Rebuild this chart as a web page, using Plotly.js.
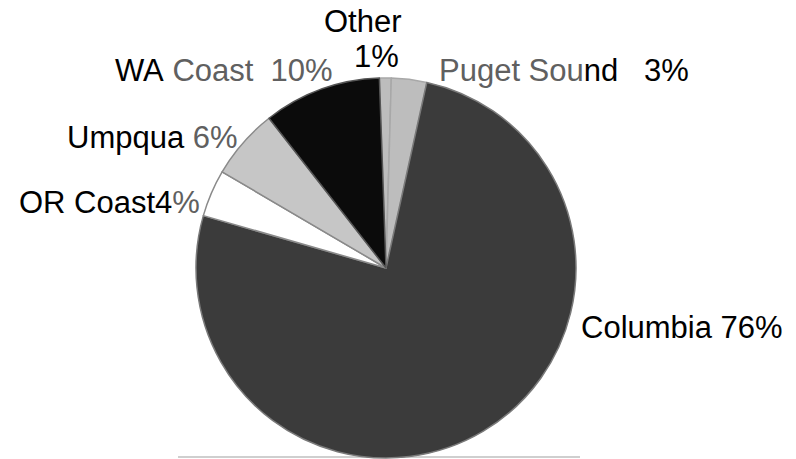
<!DOCTYPE html>
<html>
<head>
<meta charset="utf-8">
<script src="https://cdn.plot.ly/plotly-3.0.1.min.js"></script>
<style>html,body{margin:0;padding:0;background:#fff;}#chart{width:796px;height:459px;}</style>
</head>
<body>
<div id="chart"></div>
<script>
// ---- data ----
var labels = ["Other", "Puget Sound", "Columbia", "OR Coast", "Umpqua", "WA Coast"];
var values = [1, 3, 76, 4, 6, 10];
var sliceColors = ["#bdbdbd", "#bdbdbd", "#3b3b3b", "#ffffff", "#c6c6c6", "#0b0b0b"];

// ---- label layout (positions in px, separator, and how many leading/trailing chars are in the washed-out area) ----
var W = 796, H = 459;
var labelLayout = {
  "Other":       {x: 322, y: 21.5, sep: "\n",            grayFrom: null},
  "Puget Sound": {x: 437, y: 71,   sep: "\u00A0\u00A0\u00A0", grayTo: 9},
  "Columbia":    {x: 579, y: 327.5, sep: " ",             grayFrom: null},
  "OR Coast":    {x: 17,  y: 202.5, sep: "",              grayFrom: 9},
  "Umpqua":      {x: 65,  y: 137,   sep: " ",             grayFrom: 7},
  "WA Coast":    {x: 113, y: 71,    sep: "\u00A0\u00A0",  grayFrom: 3}
};
var sliceLineColors = ["#a8a8a8", "#a8a8a8", "#7a7a7a", "#8a8a8a", "#8a8a8a", "#555555"];

var gray = "#606060";
function esc(s){return s.replace(/ /g, "\u00A0");}
var font = {family: "Liberation Sans, Arial, sans-serif", size: 31, color: "#000"};
var annotations = [];
labels.forEach(function(lab, i){
  var cfg = labelLayout[lab];
  var full = lab + cfg.sep + values[i] + "%";
  if (cfg.sep === "\n") {
    annotations.push({x: cfg.x / W, y: 1 - cfg.y / H, xref: "paper", yref: "paper",
      xanchor: "left", yanchor: "middle", showarrow: false, text: lab, font: font});
    annotations.push({x: 376 / W, y: 1 - 56.5 / H, xref: "paper", yref: "paper",
      xanchor: "center", yanchor: "middle", showarrow: false, text: values[i] + "%", font: font});
    return;
  }
  var txt;
  if (cfg.grayFrom != null) {
    txt = esc(full.slice(0, cfg.grayFrom)) + "<span style='color:" + gray + "'>" + esc(full.slice(cfg.grayFrom)) + "</span>";
  } else if (cfg.grayTo != null) {
    txt = "<span style='color:" + gray + "'>" + esc(full.slice(0, cfg.grayTo)) + "</span>" + esc(full.slice(cfg.grayTo));
  } else {
    txt = esc(full);
  }
  annotations.push({x: cfg.x / W, y: 1 - cfg.y / H, xref: "paper", yref: "paper",
    xanchor: "left", yanchor: "middle", showarrow: false, text: txt, font: font});
});

var trace = {
  type: "pie",
  labels: labels,
  values: values,
  sort: false,
  direction: "clockwise",
  rotation: -2,
  textinfo: "none",
  hoverinfo: "label+percent",
  showlegend: false,
  marker: {colors: sliceColors, line: {color: sliceLineColors, width: 1.5}},
  domain: {x: [196 / W, 576 / W], y: [1 - 458 / H, 1 - 78 / H]}
};

var layout = {
  width: W, height: H,
  margin: {l: 0, r: 0, t: 0, b: 0},
  paper_bgcolor: "#ffffff",
  plot_bgcolor: "#ffffff",
  showlegend: false,
  annotations: annotations,
  shapes: [{type: "line", xref: "paper", yref: "paper",
            x0: 178 / W, x1: 580 / W, y0: 1 - 457 / H, y1: 1 - 457 / H,
            line: {color: "#cfcfcf", width: 2}, layer: "below"}]
};

Plotly.newPlot("chart", [trace], layout, {displayModeBar: false, staticPlot: true});
</script>
</body>
</html>
